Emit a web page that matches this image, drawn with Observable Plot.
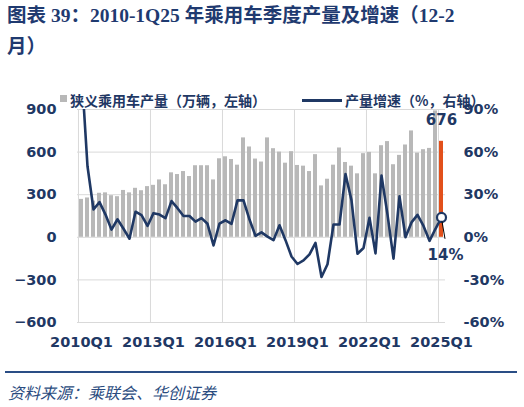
<!DOCTYPE html>
<html><head><meta charset="utf-8">
<script src="https://cdn.jsdelivr.net/npm/d3@7"></script>
<script src="https://cdn.jsdelivr.net/npm/@observablehq/plot@0.6"></script>
<style>
body{margin:0;background:#fff;width:524px;height:407px;position:relative;overflow:hidden;font-family:"Noto Sans CJK SC",sans-serif;}
#title{position:absolute;left:7px;top:0px;font-family:"Liberation Serif","Noto Sans CJK SC",serif;font-weight:bold;font-size:19.5px;color:#1f3a70;line-height:31px;white-space:nowrap;}
#chart{position:absolute;left:0;top:80px;}
.lg{position:absolute;font:bold 14px "Noto Sans CJK SC",sans-serif;color:#1f3864;white-space:nowrap;line-height:18px;top:91px;}
#rule{position:absolute;left:5px;top:371px;width:512px;height:2px;background:#2a4d85;}
#source{position:absolute;left:8px;top:381px;font-style:italic;font-size:16px;color:#2b4c80;line-height:22px;white-space:nowrap;}
</style></head>
<body>
<div id="title">图表 39：2010-1Q25 年乘用车季度产量及增速（12-2<br>月）</div>
<div id="chart"></div>
<div style="position:absolute;left:60px;top:95px;width:7px;height:7px;background:#b8b8b8"></div>
<div class="lg" style="left:70px">狭义乘用车产量（万辆，左轴）</div>
<div style="position:absolute;left:302px;top:99px;width:40px;height:3px;background:#1f3864"></div>
<div class="lg" style="left:345px">产量增速（%，右轴）</div>
<div id="rule"></div>
<div id="source">资料来源：乘联会、华创证券</div>
<script>
const quarters = ["2010Q1","2010Q2","2010Q3","2010Q4","2011Q1","2011Q2","2011Q3","2011Q4",
"2012Q1","2012Q2","2012Q3","2012Q4","2013Q1","2013Q2","2013Q3","2013Q4",
"2014Q1","2014Q2","2014Q3","2014Q4","2015Q1","2015Q2","2015Q3","2015Q4",
"2016Q1","2016Q2","2016Q3","2016Q4","2017Q1","2017Q2","2017Q3","2017Q4",
"2018Q1","2018Q2","2018Q3","2018Q4","2019Q1","2019Q2","2019Q3","2019Q4",
"2020Q1","2020Q2","2020Q3","2020Q4","2021Q1","2021Q2","2021Q3","2021Q4",
"2022Q1","2022Q2","2022Q3","2022Q4","2023Q1","2023Q2","2023Q3","2023Q4",
"2024Q1","2024Q2","2024Q3","2024Q4","2025Q1"];
const production = [267,277,255,310, 313,293,286,330, 313,345,328,357, 366,404,370,454,
442,463,428,504, 504,504,404,553, 567,548,508,700, 636,551,530,700,
624,600,522,603, 506,501,463,582, 362,409,508,629, 527,501,447,589,
598,447,645,674, 511,577,650,749, 593,617,626,890, 676];
const growth = [118,50,19.6,24.8, 16,5.4,12.7,6, -1,18,15.6,8, 17,16,13.5,25.5,
20.5,15,15,11, 13.5,9.5,-5.7,9.7, 12,9.5,26,26, 12.5,1,3.5,0.5,
-2,8.5,-2,-13.5, -18.8,-16.3,-12,-4, -28,-19,9,9, 44.5,26,-11.6,-7.5,
13.8,-11.3,43.5,16, -15,28.8,0,10.5, 15.8,8,-2.5,6, 14];
const xTickLabels = ["2010Q1","2013Q1","2016Q1","2019Q1","2022Q1","2025Q1"];
const leftTicks = [-600,-300,0,300,600,900];
const rightTickLabels = ["-60%","-30%","0%","30%","60%","90%"];
const lastQuarter = "2025Q1";

const navy = "#1f3864", gray = "#b8b8b8", red = "#e2501b", grid = "#d9d9d9";
const bars = quarters.map((q,i)=>({q, v: production[i]}));
const line = quarters.map((q,i)=>({q, g: growth[i]}));
const lastBar = bars.filter(d=>d.q===lastQuarter);
const lastLine = line.filter(d=>d.q===lastQuarter);
const W=524, H=290, mL=77, mR=79;
const step = (W-mL-mR)/quarters.length;

const plot = Plot.plot({
  width: W, height: H, marginTop: 29, marginBottom: 48, marginLeft: mL, marginRight: mR,
  x: {type:"band", domain: quarters, paddingInner: 0.4, paddingOuter: 0.2, axis: null},
  y: {domain: [-600, 900], axis: null},
  style: {fontFamily: "DejaVu Sans", fontSize: "14.5px", fontWeight: "bold", color: navy, background: "transparent", overflow: "visible"},
  marks: [
    Plot.gridY(leftTicks, {stroke: grid, strokeOpacity: 1}),
    Plot.ruleX(xTickLabels, {x: d=>d, dx: -step/2, stroke: grid, strokeOpacity: 1}),
    Plot.barY(bars.filter(d=>d.q!==lastQuarter), {x:"q", y:"v", fill: gray}),
    Plot.barY(lastBar, {x:"q", y:"v", fill: red}),
    Plot.axisY(leftTicks, {anchor:"left", tickSize:0, tickPadding:21, label:null}),
    Plot.axisY(leftTicks, {anchor:"right", tickSize:0, tickPadding:18, label:null,
      tickFormat: (d,i)=>rightTickLabels[leftTicks.indexOf(d)]}),
    Plot.axisX(xTickLabels, {tickSize:0, tickPadding:14, label:null}),
    Plot.lineY(line, {x:"q", y: d=>d.g*10, stroke: navy, strokeWidth: 2.6, clip: true}),
    Plot.dot(lastLine, {x:"q", y: d=>d.g*10, r: 4.5, fill: "white", stroke: navy, strokeWidth: 2.2}),
    Plot.text(lastBar, {x:"q", y:"v", text: d=>String(d.v), dy: -21, fill: navy, fontSize: 15}),
    Plot.text(lastLine, {x:"q", y: d=>d.g*10, text: d=>d.g+"%", dy: 38, dx: 4, fill: navy, fontSize: 15})
  ]
});
document.getElementById("chart").appendChild(plot);
const xs = plot.scale("x"), ys = plot.scale("y");
const cx = xs.apply(lastQuarter) + xs.bandwidth/2;
const cy = ys.apply(lastLine[0].g*10);
d3.select(plot).append("line")
  .attr("x1", cx+1).attr("y1", cy+4.5)
  .attr("x2", cx+4).attr("y2", ys.apply(0)+2)
  .attr("stroke", "#000").attr("stroke-width", 1);
</script>
</body></html>
